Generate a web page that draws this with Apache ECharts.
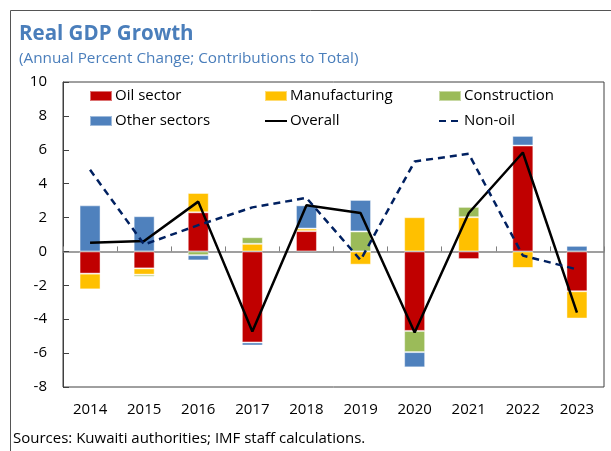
<!DOCTYPE html>
<html>
<head>
<meta charset="utf-8">
<script src="https://cdn.jsdelivr.net/npm/echarts@6/dist/echarts.min.js"></script>
<style>
  html, body { margin: 0; padding: 0; background: #fff; }
  #chart { width: 611px; height: 451px; }
</style>
</head>
<body>
<div id="chart"></div>
<script>
// Years on the category axis
var years = ['2014', '2015', '2016', '2017', '2018', '2019', '2020', '2021', '2022', '2023'];

// Sector contributions to real GDP growth (percentage points)
var oilSector     = [-1.31, -1.00, 2.31, -5.37, 1.20, 0.00, -4.69, -0.45, 6.25, -2.35];
var manufacturing = [-0.93, -0.37, 1.14, 0.45, 0.15, -0.78, 2.02, 2.02, -0.98, -1.61];
var construction  = [0.00, -0.12, -0.22, 0.39, 0.00, 1.18, -1.25, 0.61, 0.00, 0.00];
var otherSectors  = [2.72, 2.08, -0.31, -0.18, 1.37, 1.86, -0.90, 0.06, 0.57, 0.33];

// Growth rates (annual percent change)
var overall = [0.51, 0.61, 2.94, -4.73, 2.72, 2.27, -4.78, 2.27, 5.84, -3.61];
var nonOil  = [4.82, 0.41, 1.55, 2.60, 3.16, -0.51, 5.31, 5.76, -0.24, -1.06];

// Y-axis range and step
var yMin = -8, yMax = 10, yStep = 2;

var FONT = "'Open Sans', 'Noto Sans', sans-serif";
var TITLE_BLUE = '#4A7EBB';
var colors = {
  oil: '#C00000',
  manu: '#FFC000',
  cons: '#9BBB59',
  other: '#4F81BD',
  overall: '#000000',
  nonOil: '#002060'
};

function barSeries(name, data, color) {
  return {
    name: name,
    type: 'bar',
    stack: 'contrib',
    xAxisIndex: 0,
    yAxisIndex: 0,
    barWidth: 21,
    data: data,
    itemStyle: { color: color, borderColor: 'rgba(255,255,255,0.45)', borderWidth: 1 },
    emphasis: { disabled: true },
    z: 2
  };
}

function lineSeries(name, data, color, dashed) {
  return {
    name: name,
    type: 'line',
    xAxisIndex: 0,
    yAxisIndex: 0,
    data: data,
    symbol: 'none',
    showSymbol: false,
    lineStyle: { color: color, width: 2.5, type: dashed ? [7, 5] : 'solid' },
    itemStyle: { color: color },
    emphasis: { disabled: true },
    z: 5
  };
}

function legendAt(name, x, y, isBar) {
  var l = {
    data: [name],
    left: x,
    top: y,
    itemWidth: 22,
    itemHeight: 10,
    padding: 0,
    selectedMode: false,
    textStyle: { fontFamily: FONT, fontSize: 15, color: '#000', lineHeight: 18, padding: [0, 0, 0, -2] }
  };
  if (isBar) {
    l.icon = 'rect';
  } else {
    // line-only key: hide the marker, keep the stroke
    l.itemStyle = { color: 'transparent', borderColor: 'transparent', borderWidth: 0, opacity: 0 };
  }
  return l;
}

var chart = echarts.init(document.getElementById('chart'), null, { renderer: 'canvas' });

chart.setOption({
  animation: false,
  backgroundColor: '#ffffff',
  title: [
    {
      text: 'Real GDP Growth',
      left: 19,
      top: 24,
      padding: 0,
      textStyle: { fontFamily: FONT, fontSize: 20.5, fontWeight: 'bold', color: TITLE_BLUE }
    },
    {
      text: '(Annual Percent Change; Contributions to Total)',
      left: 19,
      top: 51,
      padding: 0,
      textStyle: { fontFamily: FONT, fontSize: 15.3, fontWeight: 'normal', color: TITLE_BLUE }
    },
    {
      text: 'Sources: Kuwaiti authorities; IMF staff calculations.',
      left: 13,
      top: 431,
      padding: 0,
      textStyle: { fontFamily: FONT, fontSize: 15, fontWeight: 'normal', color: '#000' }
    }
  ],
  legend: [
    legendAt('Oil sector', 89, 87, true),
    legendAt('Manufacturing', 264, 87, true),
    legendAt('Construction', 438, 87, true),
    legendAt('Other sectors', 89, 112, true),
    legendAt('Overall', 264, 112, false),
    legendAt('Non-oil', 438, 112, false)
  ],
  grid: {
    left: 63,
    right: 7,
    top: 82,
    bottom: 64,
    show: true,
    borderColor: '#404040',
    borderWidth: 1,
    backgroundColor: 'transparent'
  },
  xAxis: [
    {
      type: 'category',
      data: years,
      position: 'bottom',
      axisLine: { onZero: true, lineStyle: { color: '#808080', width: 1.5 } },
      axisTick: { show: true, inside: true, length: 5, lineStyle: { color: '#808080', width: 1 } },
      axisLabel: { show: false },
      splitLine: { show: false }
    },
    {
      type: 'category',
      data: years,
      position: 'bottom',
      axisLine: { show: false, onZero: false },
      axisTick: { show: false },
      axisLabel: { show: true, margin: 15, fontFamily: FONT, fontSize: 15, color: '#000' },
      splitLine: { show: false }
    }
  ],
  yAxis: {
    type: 'value',
    min: yMin,
    max: yMax,
    interval: yStep,
    axisLine: { show: true, lineStyle: { color: '#404040', width: 1 } },
    axisTick: { show: true, inside: true, length: 6, lineStyle: { color: '#404040' } },
    axisLabel: { margin: 16, fontFamily: FONT, fontSize: 15, color: '#000' },
    splitLine: { show: false }
  },
  graphic: [
    {
      type: 'polyline',
      silent: true,
      shape: { points: [[10.5, 451], [10.5, 10.5], [611, 10.5]] },
      style: { stroke: '#555555', lineWidth: 1, fill: null }
    }
  ],
  series: [
    barSeries('Oil sector', oilSector, colors.oil),
    barSeries('Manufacturing', manufacturing, colors.manu),
    barSeries('Construction', construction, colors.cons),
    barSeries('Other sectors', otherSectors, colors.other),
    lineSeries('Overall', overall, colors.overall, false),
    lineSeries('Non-oil', nonOil, colors.nonOil, true)
  ]
});
</script>
</body>
</html>
